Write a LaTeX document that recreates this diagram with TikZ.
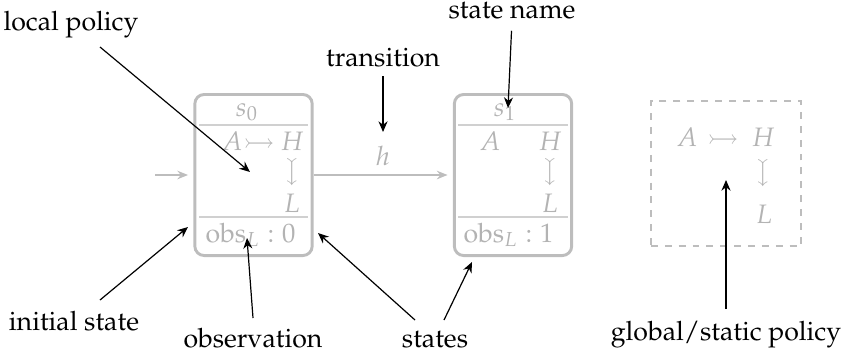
\documentclass[tikz,border=0pt]{standalone}
\usepackage[T1]{fontenc}
\usepackage{mathpazo}
\usepackage{amssymb}
\usepackage{graphicx}
\usetikzlibrary{arrows.meta}
\definecolor{boxgray}{HTML}{BDBDBD}
\definecolor{txtgray}{HTML}{B3B3B3}
\definecolor{sepgray}{HTML}{D0D0D0}
\newcommand{\downtail}{\rotatebox[origin=c]{-90}{$\rightarrowtail$}}
\begin{document}
\begin{tikzpicture}[x=0.375pt,y=-0.375pt,
  statebox/.style={draw=boxgray, line width=1.1pt, rounded corners=3.5pt,
    minimum width=44pt, minimum height=60.4pt, inner sep=0pt},
  sepline/.style={draw=sepgray, line width=0.5pt},
  gtxt/.style={text=txtgray, inner sep=0pt, anchor=base},
  lbl/.style={inner sep=0pt, anchor=base},
  ann/.style={-{Stealth[length=4pt,width=3.4pt]}, line width=0.45pt},
  garrow/.style={draw=boxgray, line width=0.6pt, -{Stealth[length=4pt,width=3.2pt]}},
  policybox/.style={draw=boxgray, dash pattern=on 2.6pt off 2.6pt, line width=0.7pt,
    minimum width=56.3pt, minimum height=54.4pt, inner sep=0pt}]
\useasboundingbox (0,0) rectangle (843,353);

% states
\node[statebox] (s0) at (253.5,175) {};
\node[statebox] (s1) at (513,175) {};
\draw[sepline] (199,125) -- (308,125);
\draw[sepline] (199,217) -- (308,217);
\draw[sepline] (458,125) -- (568,125);
\draw[sepline] (458,217) -- (568,217);

% state s0 contents
\node[gtxt] (s0name) at (247,116) {$s_0$};
\node[gtxt] (s0A) at (232,150) {$A$};
\node[gtxt] (s0t) at (259,150) {$\rightarrowtail$};
\node[gtxt] (s0H) at (292,150) {$H$};
\node[text=txtgray, inner sep=0pt] (s0d) at (292,172) {\downtail};
\node[gtxt] (s0L) at (292,212) {$L$};
\node[gtxt, anchor=base west] (s0obs) at (205,242) {$\mathrm{obs}_L : 0$};

% state s1 contents
\node[gtxt] (s1name) at (505,116) {$s_1$};
\node[gtxt] (s1A) at (490,150) {$A$};
\node[gtxt] (s1H) at (550,150) {$H$};
\node[text=txtgray, inner sep=0pt] (s1d) at (550,172) {\downtail};
\node[gtxt] (s1L) at (550,212) {$L$};
\node[gtxt, anchor=base west] (s1obs) at (463,242) {$\mathrm{obs}_L : 1$};

% global policy
\node[policybox] (gp) at (726,173.5) {};
\node[gtxt] (gA) at (687,146) {$A$};
\node[gtxt] (gt) at (723,146) {$\rightarrowtail$};
\node[gtxt] (gH) at (763,146) {$H$};
\node[text=txtgray, inner sep=0pt] (gd) at (763,173) {\downtail};
\node[gtxt] (gL) at (764,223) {$L$};

% transitions
\coordinate (init) at (155,175);
\draw[garrow, shorten >=2pt] (init) -- (s0);
\draw[garrow, shorten >=2pt] (s0) -- (s1);
\node[gtxt] (hlab) at (383,165) {$h$};

% annotations
\node[lbl] (lp) at (71,30) {local policy};
\coordinate (lpS) at (100,47);
\coordinate (lpT) at (250,172);
\draw[ann] (lpS) -- (lpT);

\node[lbl] (tr) at (383,66) {transition};
\coordinate (trT) at (383,132);
\draw[ann, shorten <=3.4pt] (tr.south) -- (trT);

\node[lbl] (sn) at (512,19) {state name};
\coordinate (snT) at (508,108);
\draw[ann, shorten <=4pt] (sn.south) -- (snT);

\node[lbl] (is) at (74,330) {initial state};
\coordinate (isS) at (100,300);
\coordinate (isT) at (188,227);
\draw[ann] (isS) -- (isT);

\node[lbl] (ob) at (253,347) {observation};
\coordinate (obS) at (253,318);
\coordinate (obT) at (247,238);
\draw[ann] (obS) -- (obT);

\node[lbl] (st) at (435,347) {states};
\coordinate (stS1) at (415,320);
\coordinate (stT1) at (318,233);
\coordinate (stS2) at (444,320);
\coordinate (stT2) at (472,262);
\draw[ann] (stS1) -- (stT1);
\draw[ann] (stS2) -- (stT2);

\node[lbl] (gl) at (726,340) {global/static policy};
\coordinate (glS) at (726,309);
\coordinate (glT) at (726,180);
\draw[ann] (glS) -- (glT);
\end{tikzpicture}
\end{document}
